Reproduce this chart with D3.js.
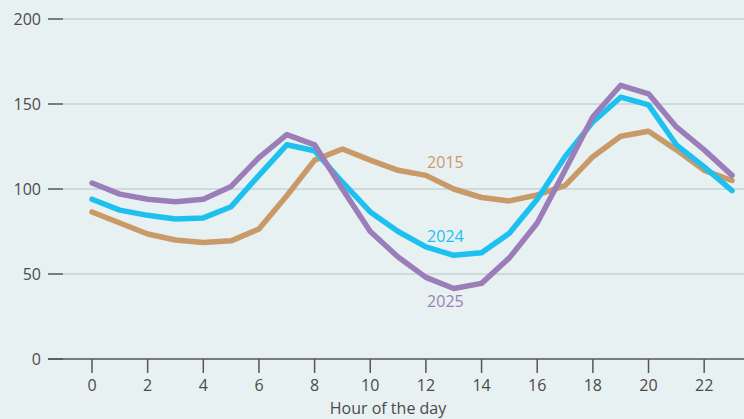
<!DOCTYPE html>
<html lang="en">
<head>
  <meta charset="utf-8">
  <title>Hour of the day</title>
  <script src="https://d3js.org/d3.v7.min.js"></script>
  <style>
    body { margin: 0; background: #e8f1f2; }
    svg { display: block; font-family: "Open Sans", sans-serif; }
  </style>
</head>
<body>
<svg id="chart" width="744" height="419"></svg>
<script>
  // Data
  const hours = d3.range(0, 24);
  const xTicks = [0, 2, 4, 6, 8, 10, 12, 14, 16, 18, 20, 22];
  const yTicks = [0, 50, 100, 150, 200];
  const v2015 = [86.5, 80, 73.5, 70, 68.5, 69.5, 76.5, 96, 117, 123.5, 117, 111, 108, 100, 95, 93, 96.5, 102, 119, 131, 134, 123, 111, 105];
  const v2024 = [94, 87.6, 84.5, 82.4, 83, 89.6, 108, 126, 122.5, 104, 86.5, 75, 66, 61, 62.5, 74, 94, 119, 139.5, 154, 149.5, 126, 113, 99];
  const v2025 = [103.5, 97, 94, 92.5, 94, 101.5, 118.5, 132, 126, 100, 75, 60, 48, 41.5, 44.5, 59.5, 80, 111, 142.5, 161, 156, 136.5, 123, 108];

  const series = [
    { name: "2015", values: v2015, color: "#c89a68", label: [12.7, 115.5] },
    { name: "2024", values: v2024, color: "#1ec0ef", label: [12.7, 72] },
    { name: "2025", values: v2025, color: "#9b7eb9", label: [12.7, 34] }
  ];

  const svg = d3.select("#chart");

  const x = d3.scaleLinear().domain([0, 23]).range([92, 732]);
  const y = d3.scaleLinear().domain([0, 200]).range([359, 19]);

  // Grid lines + y ticks
  const yg = svg.append("g");
  yg.selectAll("line.grid").data(yTicks.filter(d => d > 0)).join("line")
    .attr("x1", 63).attr("x2", 744)
    .attr("y1", d => y(d)).attr("y2", d => y(d))
    .attr("stroke", "#c9d0d3").attr("stroke-width", 1.5);
  yg.selectAll("line.tick").data(yTicks).join("line")
    .attr("x1", 48).attr("x2", 63)
    .attr("y1", d => y(d)).attr("y2", d => y(d))
    .attr("stroke", "#555").attr("stroke-width", 1.5);
  yg.selectAll("text").data(yTicks).join("text")
    .attr("x", 41).attr("y", d => y(d))
    .attr("dy", "0.35em")
    .attr("text-anchor", "end")
    .attr("font-size", 16)
    .attr("fill", "#4a4a4a")
    .text(d => d);

  // X axis
  svg.append("line")
    .attr("x1", 48).attr("x2", 744)
    .attr("y1", y(0)).attr("y2", y(0))
    .attr("stroke", "#555").attr("stroke-width", 1.5);
  const xg = svg.append("g");
  xg.selectAll("line").data(xTicks).join("line")
    .attr("x1", d => x(d)).attr("x2", d => x(d))
    .attr("y1", y(0)).attr("y2", y(0) + 14)
    .attr("stroke", "#555").attr("stroke-width", 1.5);
  xg.selectAll("text").data(xTicks).join("text")
    .attr("x", d => x(d)).attr("y", 391)
    .attr("text-anchor", "middle")
    .attr("font-size", 16)
    .attr("fill", "#4a4a4a")
    .text(d => d);

  svg.append("text")
    .attr("x", 388).attr("y", 414)
    .attr("text-anchor", "middle")
    .attr("font-size", 16)
    .attr("fill", "#4a4a4a")
    .text("Hour of the day");

  // Lines
  const line = d3.line()
    .x((d, i) => x(hours[i]))
    .y(d => y(d));

  series.forEach(s => {
    svg.append("path")
      .datum(s.values)
      .attr("fill", "none")
      .attr("stroke", s.color)
      .attr("stroke-width", 5.5)
      .attr("stroke-linejoin", "round")
      .attr("stroke-linecap", "round")
      .attr("d", line);
    svg.append("text")
      .attr("x", x(s.label[0])).attr("y", y(s.label[1]))
      .attr("text-anchor", "middle")
      .attr("dy", "0.35em")
      .attr("font-size", 16)
      .attr("fill", s.color)
      .text(s.name);
  });
</script>
</body>
</html>
